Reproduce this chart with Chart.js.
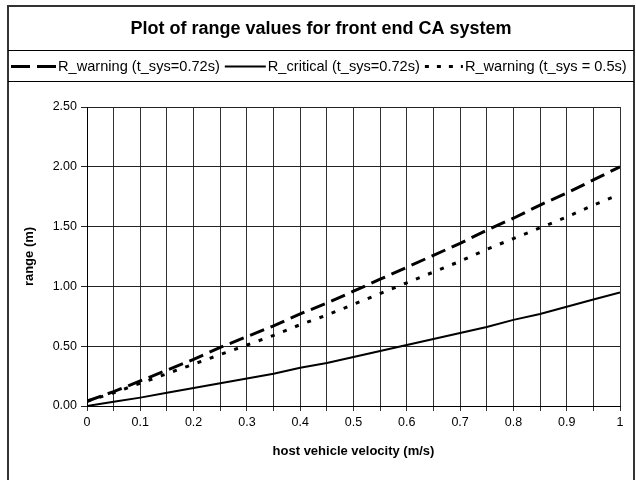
<!DOCTYPE html>
<html><head><meta charset="utf-8">
<script src="https://cdn.jsdelivr.net/npm/chart.js@4.4.1/dist/chart.umd.min.js"></script>
<style>html,body{margin:0;padding:0;background:#fff}#wrap{width:636px;height:480px;position:relative}</style>
</head><body><div id="wrap"><canvas id="c" width="636" height="480"></canvas></div>
<script>
const chartTitle = 'Plot of range values for front end CA system';
const xAxisTitle = 'host vehicle velocity (m/s)';
const yAxisTitle = 'range (m)';
const seriesLabels = ['R_warning (t_sys=0.72s)', 'R_critical (t_sys=0.72s)', 'R_warning (t_sys = 0.5s)'];
const velocity = [0, 0.05, 0.1, 0.15, 0.2, 0.25, 0.3, 0.35, 0.4, 0.45, 0.5, 0.55, 0.6, 0.65, 0.7, 0.75, 0.8, 0.85, 0.9, 0.95, 1];
const warning072 = [0.04, 0.12, 0.21, 0.30, 0.39, 0.49, 0.58, 0.67, 0.77, 0.86, 0.96, 1.06, 1.16, 1.26, 1.36, 1.47, 1.57, 1.68, 1.78, 1.89, 2.00];
const critical072 = [0, 0.035, 0.07, 0.11, 0.15, 0.19, 0.23, 0.27, 0.32, 0.36, 0.41, 0.46, 0.51, 0.56, 0.61, 0.66, 0.72, 0.77, 0.83, 0.89, 0.95];
const warning05 = [0.04, 0.11, 0.19, 0.27, 0.35, 0.43, 0.51, 0.59, 0.68, 0.76, 0.85, 0.94, 1.03, 1.12, 1.21, 1.31, 1.40, 1.49, 1.58, 1.68, 1.77];
const xTickLabels = ['0', '0.1', '0.2', '0.3', '0.4', '0.5', '0.6', '0.7', '0.8', '0.9', '1'];
const yTickLabels = ['0.00', '0.50', '1.00', '1.50', '2.00', '2.50'];

const FONT = '"Liberation Sans", Arial, sans-serif';
const seriesData = [warning072, critical072, warning05];
const dashes = [[15, 7], [], [4, 9]];
const legendDashes = [[19, 7], [], [4, 8]];
const widths = [3, 2, 3];

const framePlugin = {
  id: 'frame',
  beforeDraw(chart) {
    const ctx = chart.ctx;
    ctx.save();
    ctx.fillStyle = '#fff';
    ctx.fillRect(0, 0, chart.width, chart.height);
    ctx.restore();
  },
  afterDraw(chart) {
    const ctx = chart.ctx;
    ctx.save();
    ctx.strokeStyle = '#333';
    ctx.lineWidth = 2;
    ctx.strokeRect(8, 6, 626, 500);
    ctx.lineWidth = 1;
    ctx.strokeStyle = '#000';
    ctx.beginPath();
    ctx.moveTo(8, 50.5); ctx.lineTo(634, 50.5);
    ctx.moveTo(8, 81.5); ctx.lineTo(634, 81.5);
    ctx.stroke();
    ctx.fillStyle = '#000';
    ctx.font = 'bold 18px ' + FONT;
    ctx.textAlign = 'center';
    ctx.textBaseline = 'middle';
    ctx.fillText(chartTitle, 321, 29);
    ctx.font = '14.6px ' + FONT;
    ctx.textAlign = 'left';
    let x = 11;
    const ly = 66.5;
    const sampleLen = [45, 41, 38];
    chart.data.datasets.forEach((ds, i) => {
      ctx.save();
      ctx.strokeStyle = '#000';
      ctx.lineWidth = widths[i];
      ctx.setLineDash(legendDashes[i]);
      ctx.beginPath();
      ctx.moveTo(x, ly); ctx.lineTo(x + sampleLen[i], ly);
      ctx.stroke();
      ctx.restore();
      x += sampleLen[i] + 2;
      ctx.fillText(ds.label, x, ly);
      x += ctx.measureText(ds.label).width + 5;
    });
    ctx.restore();
  }
};

new Chart(document.getElementById('c'), {
  type: 'line',
  data: {
    datasets: seriesData.map((arr, i) => ({
      label: seriesLabels[i],
      data: velocity.map((v, j) => ({ x: v, y: arr[j] })),
      borderColor: '#000',
      backgroundColor: '#000',
      borderWidth: widths[i],
      borderDash: dashes[i],
      pointRadius: 0,
      tension: 0,
      fill: false
    }))
  },
  options: {
    responsive: false,
    animation: false,
    devicePixelRatio: 1,
    layout: { padding: { left: 7, top: 107, right: 16, bottom: 0 } },
    plugins: { legend: { display: false }, title: { display: false }, tooltip: { enabled: false } },
    scales: {
      x: {
        type: 'linear', min: 0, max: 1,
        ticks: {
          stepSize: 0.05, autoSkip: false, maxRotation: 0, padding: 4,
          color: '#000', font: { family: FONT, size: 12.5 },
          callback: (v, i) => (i % 2 === 0 ? xTickLabels[i / 2] : '')
        },
        grid: { color: '#333', lineWidth: 1, tickLength: 5, drawTicks: true },
        border: { color: '#000', width: 1 },
        title: { display: true, text: xAxisTitle, color: '#000', font: { family: FONT, size: 13, weight: 'bold' }, padding: { top: 4, bottom: 21 } },
        afterFit: (s) => { s.height = 74; }
      },
      y: {
        min: 0, max: 2.5,
        ticks: {
          stepSize: 0.5, padding: 4, color: '#000', font: { family: FONT, size: 12.5 },
          callback: (v, i) => yTickLabels[i]
        },
        grid: { color: '#222', lineWidth: 1, tickLength: 6, drawTicks: true },
        border: { color: '#000', width: 1 },
        title: { display: true, text: yAxisTitle, color: '#000', font: { family: FONT, size: 13, weight: 'bold' }, padding: { top: 15, bottom: 0 } },
        afterFit: (s) => { s.width = 80; }
      }
    }
  },
  plugins: [framePlugin]
});
</script>
</body></html>
